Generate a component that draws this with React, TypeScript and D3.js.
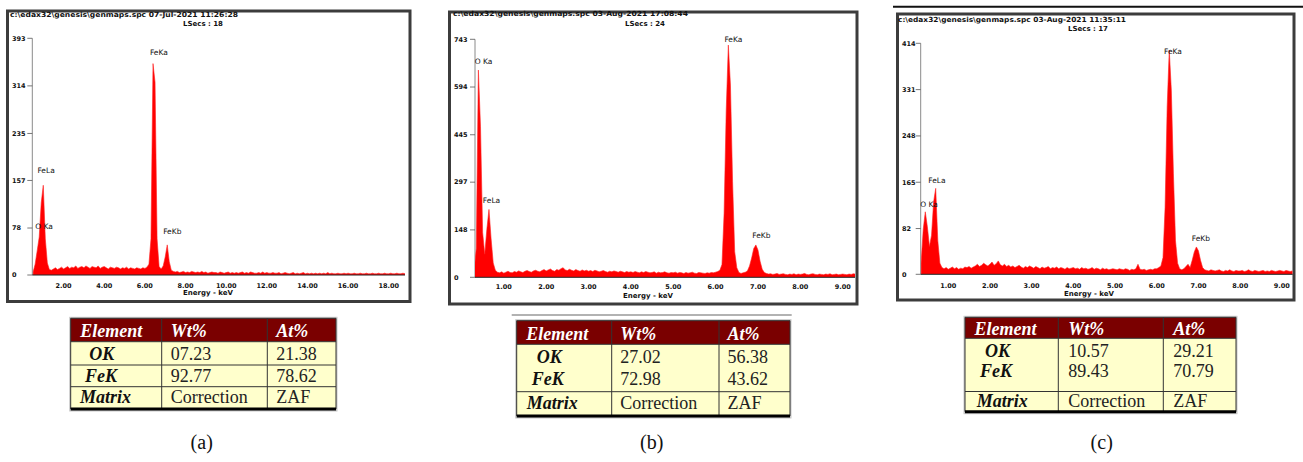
import { useEffect, useRef } from "react";
import * as d3 from "d3";

// EDS spectra, counts per channel
// (a): 0.1 keV channels starting at 0.5 keV
const startA = 0.5;
const stepA = 0.1;
const countsA = [
  5, 18, 40, 63, 120, 149, 60, 20, 9, 8,
  10, 12, 9, 11, 13, 10, 12, 14, 11, 13,
  12, 15, 11, 13, 14, 12, 15, 13, 11, 14,
  13, 12, 15, 11, 13, 14, 12, 10, 13, 12,
  11, 13, 12, 10, 12, 11, 13, 10, 12, 11,
  10, 12, 11, 10, 12, 11, 13, 18, 60, 351,
  320, 60, 14, 10, 15, 30, 50, 22, 8, 6,
  5, 6, 4, 5, 6, 4, 5, 4, 6, 5,
  4, 5, 4, 6, 4, 5, 3, 4, 5, 4,
  4, 3, 5, 4, 3, 4, 5, 3, 4, 3,
  4, 3, 4, 5, 3, 4, 3, 5, 4, 3,
  3, 4, 3, 5, 3, 4, 3, 3, 4, 3,
  3, 4, 2, 3, 4, 3, 2, 3, 4, 2,
  3, 2, 3, 4, 2, 3, 2, 3, 2, 3,
  2, 3, 2, 3, 2, 4, 2, 3, 2, 2,
  3, 2, 2, 3, 2, 3, 2, 2, 3, 2,
  2, 3, 2, 2, 3, 2, 2, 3, 2, 2,
  3, 2, 2, 3, 2, 2, 3, 2, 2, 3,
  2, 2, 3, 2,
];

// (b): 0.05 keV channels starting at 0.30 keV
const startB = 0.3;
const stepB = 0.05;
const countsB = [
  20, 90, 647, 470, 140, 72, 150, 212, 120, 45, 22, 16,
  14, 17, 13, 16, 19, 15, 14, 18, 16, 20, 17, 15, 19, 21, 18, 16, 20, 22, 19, 17, 21, 24,
  20, 23, 26, 21, 19, 24, 22, 27, 30, 23, 21, 25, 22, 20, 24, 21, 19, 23, 20, 22,
  19, 21, 18, 22, 20, 17, 19, 21, 18, 16, 19, 17, 20, 18, 16, 19, 17, 15, 18, 16,
  17, 15, 18, 16, 14, 17, 15, 18, 16, 14, 15, 17, 13, 16, 14, 15, 17, 14, 13, 15,
  14, 16, 13, 15, 14, 12, 15, 13, 14, 16, 13, 12, 15, 14, 13, 12, 14, 13, 15, 14,
  16, 18, 22, 40, 200, 520, 725, 600, 300, 80, 30, 15, 12, 14, 16, 20, 35, 60, 90, 101,
  85, 50, 25, 15, 12, 10, 11, 9, 10, 12, 9, 10, 11, 9, 8, 10, 9, 11, 8, 10,
  9, 10, 12, 9, 8, 10, 11, 9, 8, 10, 9, 8, 10, 9, 11, 8, 9, 10, 8, 9,
  10, 9, 8, 10, 9, 11, 10,
];

// (c): 0.05 keV channels starting at 0.35 keV
const startC = 0.35;
const stepC = 0.05;
const countsC = [
  20, 80, 112, 85, 50, 70, 130, 154, 60, 20, 12,
  10, 12, 9, 11, 13, 10, 12, 9, 11, 10, 13, 12, 14, 11, 13, 15, 18, 14, 16, 20, 17, 15,
  18, 22, 16, 19, 24, 17, 15, 18, 14, 16, 13, 15, 12, 14, 16, 13, 11, 14, 12, 15,
  13, 11, 14, 12, 10, 13, 11, 12, 14, 10, 12, 11, 13, 10, 12, 11, 9, 12, 10, 11,
  12, 10, 11, 9, 12, 10, 11, 9, 10, 12, 9, 11, 10, 8, 11, 9, 10, 8, 9, 10,
  9, 8, 10, 9, 8, 10, 9, 7, 9, 8, 10, 18, 9, 8, 9, 7, 8, 9, 8, 10,
  10, 12, 15, 30, 120, 300, 402, 330, 180, 60, 20, 10, 8, 10, 14, 18, 12, 25, 40, 49,
  42, 25, 12, 8, 7, 6, 8, 7, 6, 7, 8, 6, 5, 7, 6, 8, 6, 5, 7, 6,
  6, 7, 5, 6, 8, 6, 5, 7, 6, 5, 6, 7, 5, 6, 5, 7, 6, 5, 6, 7,
  6, 5, 7, 6, 5, 6,
];

const yTicksA = [0, 78, 157, 235, 314, 393];
const yTicksB = [0, 148, 297, 445, 594, 743];
const yTicksC = [0, 82, 165, 248, 331, 414];
const xTicksA = [2, 4, 6, 8, 10, 12, 14, 16, 18];
const xTicksBC = [1, 2, 3, 4, 5, 6, 7, 8, 9];

// peak labels: [keV, counts] where the label sits
const peakNames = ["O Ka", "FeLa", "FeKa", "FeKb"];
const peakLabelsA = [[1.04, 76], [1.14, 169], [6.69, 365], [7.35, 68]];
const peakLabelsB = [[0.52, 666], [0.71, 232], [6.42, 734], [7.08, 123]];
const peakLabelsC = [[0.54, 121], [0.73, 164], [6.39, 395], [7.06, 60]];

const headerA = ["c:\\edax32\\genesis\\genmaps.spc  07-Jul-2021 11:26:28", "LSecs : 18"];
const headerB = ["c:\\edax32\\genesis\\genmaps.spc  03-Aug-2021 17:08:44", "LSecs : 24"];
const headerC = ["c:\\edax32\\genesis\\genmaps.spc  03-Aug-2021 11:35:11", "LSecs : 17"];

// quantification tables
const tableColumns = ["Element", "Wt%", "At%"];
const tableRows = ["OK", "FeK", "Matrix"];
const wtA = ["07.23", "92.77", "Correction"];
const atA = ["21.38", "78.62", "ZAF"];
const wtB = ["27.02", "72.98", "Correction"];
const atB = ["56.38", "43.62", "ZAF"];
const wtC = ["10.57", "89.43", "Correction"];
const atC = ["29.21", "70.79", "ZAF"];
const captions = ["(a)", "(b)", "(c)"];

const panels = [
  {
    counts: countsA, start: startA, step: stepA, domain: [0.46, 18.8], yTicks: yTicksA, xTicks: xTicksA,
    labels: peakLabelsA, header: headerA,
    frame: [7.5, 11, 410, 301.5], axisX: 32.3, right: 405, top: 38.3, base: 275,
    titleX: 10, titleY: 16.5, titleLen: 228, lsecsX: 203, lsecsY: 25.5,
    xLabelY: 287.5, energyX: 208, energyY: 295,
  },
  {
    counts: countsB, start: startB, step: stepB, domain: [0.32, 9.29], yTicks: yTicksB, xTicks: xTicksBC,
    labels: peakLabelsB, header: headerB,
    frame: [449.5, 12, 857, 304], axisX: 475, right: 855, top: 39.3, base: 277.3,
    titleX: 453, titleY: 16.2, titleLen: 235, lsecsX: 645, lsecsY: 26.2,
    xLabelY: 288.5, energyX: 648, energyY: 297.5,
  },
  {
    counts: countsC, start: startC, step: stepC, domain: [0.34, 9.26], yTicks: yTicksC, xTicks: xTicksBC,
    labels: peakLabelsC, header: headerC,
    frame: [897.5, 14, 1294, 300], axisX: 920.7, right: 1292.7, top: 43.3, base: 274.3,
    titleX: 898, titleY: 22.2, titleLen: 228, lsecsX: 1088, lsecsY: 31.2,
    xLabelY: 287.5, energyX: 1089, energyY: 296,
  },
];

const tables = [
  {
    wt: wtA, at: atA, cols: [70.7, 161.7, 267.3, 336], top: 318.3, head: 341.7,
    lines: [365, 386.7], bottom: 409, headBase: 336.5, rowBase: [360, 381.5, 403.3],
    rowX: [89.3, 85, 80], valPad: 9, capX: 201.7, topRule: null,
  },
  {
    wt: wtB, at: atB, cols: [516.7, 611.7, 719, 790], top: 320.7, head: 344.3,
    lines: [391.7], bottom: 416, headBase: 339.5, rowBase: [363.3, 385, 409.3],
    rowX: [536.7, 531.7, 526.7], valPad: 8.5, capX: 651.7, topRule: [511.7, 791.7, 315],
  },
  {
    wt: wtC, at: atC, cols: [965, 1058.3, 1163.3, 1236], top: 317.3, head: 338.3,
    lines: [391.5], bottom: 411.7, headBase: 334.5, rowBase: [356.7, 377, 406.5],
    rowX: [985, 980, 976.7], valPad: 10, capX: 1101.7, topRule: null,
  },
];

const small = "'DejaVu Sans', sans-serif";
const serif = "'Liberation Serif', 'Times New Roman', serif";

function EdsFigure() {
  const ref = useRef(null);

  useEffect(() => {
    const svg = d3.select(ref.current);
    svg.selectAll("*").remove();

    // rule over panel (c)
    svg.append("line").attr("x1", 893).attr("x2", 1303).attr("y1", 6.7).attr("y2", 6.7)
      .attr("stroke", "#111").attr("stroke-width", 2);

    panels.forEach((p, k) => {
      const g = svg.append("g");
      const [fx0, fy0, fx1, fy1] = p.frame;

      g.append("rect").attr("x", fx0).attr("y", fy0).attr("width", fx1 - fx0).attr("height", fy1 - fy0)
        .attr("fill", "#fff").attr("stroke", "#3c3c3c").attr("stroke-width", 3);

      const x = d3.scaleLinear().domain(p.domain).range([p.axisX, p.right]);
      const yMax = p.yTicks[p.yTicks.length - 1];
      const y = d3.scaleLinear().domain([0, yMax]).range([p.base, p.top]);

      // header
      g.append("text").attr("x", p.titleX).attr("y", p.titleY).attr("font-family", small)
        .attr("font-size", 7).attr("font-weight", "bold").attr("fill", "#111")
        .attr("textLength", p.titleLen).attr("lengthAdjust", "spacingAndGlyphs").text(p.header[0]);
      g.append("text").attr("x", p.lsecsX).attr("y", p.lsecsY).attr("font-family", small)
        .attr("font-size", 7).attr("font-weight", "bold").attr("fill", "#111")
        .attr("text-anchor", "middle").text(p.header[1]);

      // y axis
      g.append("line").attr("x1", p.axisX).attr("x2", p.axisX).attr("y1", y(yMax)).attr("y2", p.base)
        .attr("stroke", "#8a8a8a").attr("stroke-width", 1);
      p.yTicks.forEach((t) => {
        g.append("line").attr("x1", p.axisX - 5).attr("x2", p.axisX).attr("y1", y(t)).attr("y2", y(t))
          .attr("stroke", "#555").attr("stroke-width", 0.8);
        g.append("text").attr("x", fx0 + 4.5).attr("y", y(t)).attr("dy", "0.35em")
          .attr("font-family", small).attr("font-size", 6.5).attr("font-weight", "bold")
          .attr("fill", "#111").text(t);
      });

      // spectrum
      const clipId = `clip-${k}`;
      g.append("clipPath").attr("id", clipId).append("rect")
        .attr("x", p.axisX).attr("y", p.top - 20).attr("width", p.right - p.axisX).attr("height", p.base - p.top + 20);
      const area = d3.area<number>()
        .x((d, i) => x(p.start + i * p.step))
        .y0(p.base)
        .y1((d) => y(d));
      g.append("path").datum(p.counts).attr("clip-path", `url(#${clipId})`)
        .attr("d", area).attr("fill", "#ff0000").attr("stroke", "#ff2020").attr("stroke-width", 0.6);

      // baseline
      g.append("line").attr("x1", p.axisX).attr("x2", p.right).attr("y1", p.base).attr("y2", p.base)
        .attr("stroke", "#222").attr("stroke-width", 1);

      // x tick labels
      p.xTicks.forEach((t) => {
        g.append("text").attr("x", x(t)).attr("y", p.xLabelY).attr("text-anchor", "middle")
          .attr("font-family", small).attr("font-size", 6.5).attr("font-weight", "bold")
          .attr("fill", "#111").text(t.toFixed(2));
      });
      g.append("text").attr("x", p.energyX).attr("y", p.energyY).attr("text-anchor", "middle")
        .attr("font-family", small).attr("font-size", 7).attr("font-weight", "bold")
        .attr("fill", "#111").text("Energy - keV");

      // peak labels
      p.labels.forEach((l, i) => {
        g.append("text").attr("x", x(l[0])).attr("y", y(l[1])).attr("text-anchor", "middle")
          .attr("font-family", small).attr("font-size", 7.5).attr("fill", "#111").text(peakNames[i]);
      });
    });

    // tables
    tables.forEach((t, k) => {
      const g = svg.append("g");
      const [c0, c1, c2, c3] = t.cols;

      if (t.topRule) {
        g.append("line").attr("x1", t.topRule[0]).attr("x2", t.topRule[1])
          .attr("y1", t.topRule[2]).attr("y2", t.topRule[2]).attr("stroke", "#999").attr("stroke-width", 1.5);
      }

      // shadow + backgrounds
      g.append("rect").attr("x", c0 - 1.5).attr("y", t.top - 1.5).attr("width", c3 - c0 + 3)
        .attr("height", t.bottom - t.top + 4).attr("fill", "#c8c8c8");
      g.append("rect").attr("x", c0).attr("y", t.top).attr("width", c3 - c0).attr("height", t.head - t.top)
        .attr("fill", "#7a0000");
      g.append("rect").attr("x", c0).attr("y", t.head).attr("width", c3 - c0).attr("height", t.bottom - t.head)
        .attr("fill", "#ffffcc");

      // grid
      [c0, c1, c2, c3].forEach((cx) => {
        g.append("line").attr("x1", cx).attr("x2", cx).attr("y1", t.top).attr("y2", t.bottom)
          .attr("stroke", "#333").attr("stroke-width", 1);
      });
      [t.top, t.head, ...t.lines].forEach((ly) => {
        g.append("line").attr("x1", c0).attr("x2", c3).attr("y1", ly).attr("y2", ly)
          .attr("stroke", "#333").attr("stroke-width", 1);
      });
      g.append("line").attr("x1", c0).attr("x2", c3).attr("y1", t.bottom).attr("y2", t.bottom)
        .attr("stroke", "#000").attr("stroke-width", 3);

      // header text
      const colX = [c0 + 9.5, c1 + t.valPad, c2 + t.valPad];
      tableColumns.forEach((name, i) => {
        g.append("text").attr("x", colX[i]).attr("y", t.headBase).attr("font-family", serif)
          .attr("font-size", 18).attr("font-weight", "bold").attr("font-style", "italic")
          .attr("fill", "#fff").text(name);
      });

      // rows
      tableRows.forEach((name, r) => {
        g.append("text").attr("x", t.rowX[r]).attr("y", t.rowBase[r]).attr("font-family", serif)
          .attr("font-size", 18).attr("font-weight", "bold").attr("font-style", "italic")
          .attr("fill", "#111").text(name);
        g.append("text").attr("x", colX[1]).attr("y", t.rowBase[r]).attr("font-family", serif)
          .attr("font-size", 18).attr("fill", "#222").text(t.wt[r]);
        g.append("text").attr("x", colX[2]).attr("y", t.rowBase[r]).attr("font-family", serif)
          .attr("font-size", 18).attr("fill", "#222").text(t.at[r]);
      });

      g.append("text").attr("x", t.capX).attr("y", 449).attr("text-anchor", "middle")
        .attr("font-family", serif).attr("font-size", 20).attr("fill", "#111").text(captions[k]);
    });

    return () => {
      svg.selectAll("*").remove();
    };
  }, []);

  return (
    <svg
      ref={ref}
      width={1303}
      height={462}
      style={{ position: "absolute", left: 0, top: 0, background: "#fff" }}
    />
  );
}

export default function App() {
  return <EdsFigure />;
}
